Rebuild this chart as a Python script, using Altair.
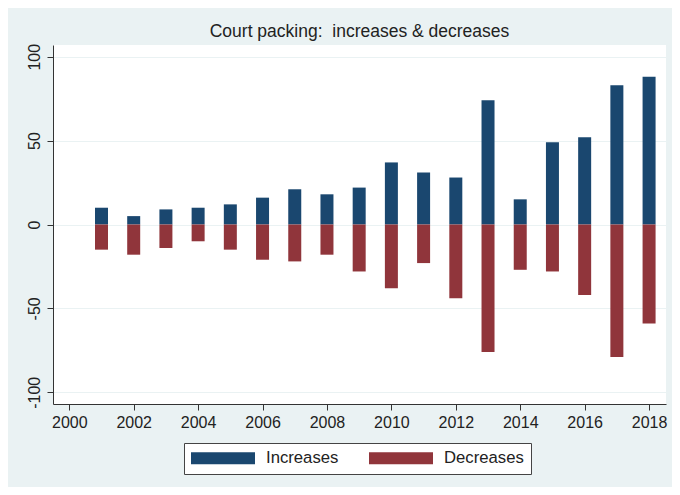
import altair as alt
import pandas as pd

years = list(range(2001, 2019))
increases = [10, 5, 9, 10, 12, 16, 21, 18, 22, 37, 31, 28, 74, 15, 49, 52, 83, 88]
decreases = [-15, -18, -14, -10, -15, -21, -22, -18, -28, -38, -23, -44, -76, -27, -28, -42, -79, -59]
series = ["Increases", "Decreases"]
colors = ["#1A476F", "#90353B"]
x_ticks = list(range(2000, 2019, 2))
y_ticks = [-100, -50, 0, 50, 100]

df = pd.DataFrame({
    "year": years * 2,
    "value": increases + decreases,
    "series": [series[0]] * len(years) + [series[1]] * len(years),
})

bg = "#EAF2F3"
font = "Liberation Sans"

chart = alt.Chart(df).mark_bar(size=13).encode(
    x=alt.X("year:Q",
            scale=alt.Scale(domain=[1999.65, 2018.37], nice=False, zero=False),
            axis=alt.Axis(values=x_ticks, format="d", title=None, grid=False,
                          tickSize=6, labelPadding=4, labelFontSize=16,
                          labelFont=font, labelColor="#222", domainColor="#333",
                          tickColor="#333", labelFlush=False)),
    y=alt.Y("value:Q", stack=None,
            scale=alt.Scale(domain=[-107, 107], nice=False, zero=False),
            axis=alt.Axis(values=y_ticks, title=None, grid=True, gridColor=bg,
                          gridWidth=1.2, tickSize=6, labelAngle=-90, labelPadding=5,
                          labelExpr="toString(datum.value)",
                          labelFontSize=16, labelFont=font, labelColor="#222",
                          domainColor="#333", tickColor="#333", labelFlush=False)),
    y2=alt.datum(0),
    color=alt.Color("series:N",
                    scale=alt.Scale(domain=series, range=colors),
                    legend=alt.Legend(
                        title=None, orient="none", direction="horizontal",
                        legendX=131, legendY=398,
                        symbolType="M-1,-0.1875H1V0.1875H-1Z", symbolSize=4096,
                        symbolStrokeWidth=0, clipHeight=16,
                        labelFontSize=16.7, labelFont=font, labelColor="#222",
                        labelExpr="datum.label == 'Decreases' ? datum.label + '\u00a0\u00a0' : datum.label",
                        labelOffset=11, columnPadding=30, padding=7,
                        strokeColor="#444", fillColor="white")),
).properties(
    width=613, height=359,
    title=alt.TitleParams("Court packing:\u00a0 increases & decreases", fontSize=17.5,
                          font=font, fontWeight="normal", color="#222",
                          frame="group", anchor="middle", offset=3),
    autosize=alt.AutoSizeParams(type="none"),
    padding={"left": 45, "top": 37, "right": 6, "bottom": 83},
    background=bg,
).configure_view(fill="white", stroke=None)

chart.save("out.html", embed_options={"renderer": "svg", "actions": False})
